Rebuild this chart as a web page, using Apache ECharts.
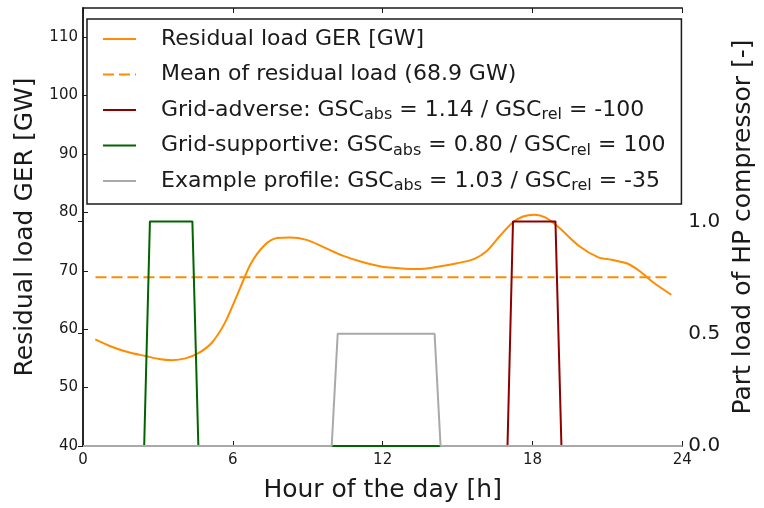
<!DOCTYPE html>
<html>
<head>
<meta charset="utf-8">
<script src="https://cdn.jsdelivr.net/npm/echarts@6/dist/echarts.min.js"></script>
<style>
  html, body { margin: 0; padding: 0; background: #fff; }
  #chart { width: 764px; height: 508px; }
</style>
</head>
<body>
<div id="chart"></div>
<script>
// residual load over the day (GW)
var loadHours = [0.49, 1.2, 1.86, 2.52, 3.04, 3.57, 4.1, 4.62, 5.14, 5.67, 6.2, 6.72, 7.25, 7.77, 8.29, 8.95, 9.61, 10.4, 11.19, 11.97,
                 12.5, 13.41, 14.07, 14.99, 15.65, 16.17, 16.7, 17.22, 17.62, 18.08, 18.53, 19.06, 19.85, 20.64, 21.16, 21.82, 22.34, 22.87, 23.56];
var loadValues = [58.25, 56.9, 56.0, 55.4, 54.9, 54.7, 55.0, 55.9, 57.6, 61.0, 66.1, 71.2, 74.3, 75.6, 75.7, 75.3, 74.1, 72.6, 71.5, 70.7,
                  70.5, 70.3, 70.6, 71.3, 72.0, 73.4, 76.0, 78.3, 79.3, 79.6, 79.1, 77.4, 74.3, 72.3, 71.9, 71.2, 69.8, 67.9, 65.9];
var meanHours = [0.5, 23.5];
var meanLoad = 68.9;

// compressor part load profiles
var adverseHours = [0, 17.0, 17.22, 18.92, 19.16, 24];
var adverseValues = [0, 0, 1, 1, 0, 0];
var supportiveHours = [0, 2.45, 2.68, 4.38, 4.62, 24];
var supportiveValues = [0, 0, 1, 1, 0, 0];
var exampleHours = [0, 9.96, 10.2, 14.08, 14.32, 24];
var exampleValues = [0, 0, 0.5, 0.5, 0, 0];

var xTicks = [0, 6, 12, 18, 24];
var leftTicks = [40, 50, 60, 70, 80, 90, 100, 110];
var rightTicks = [0, 0.5, 1.0];

var names = [
    'Residual load GER [GW]',
    'Mean of residual load (68.9 GW)',
    'Grid-adverse: GSC_abs = 1.14 / GSC_rel = -100',
    'Grid-supportive: GSC_abs = 0.80 / GSC_rel = 100',
    'Example profile: GSC_abs = 1.03 / GSC_rel = -35'
];

function zip(xs, ys) {
    return xs.map(function (x, i) { return [x, ys[i]]; });
}

var font = 'DejaVu Sans';
var ink = '#1a1a1a';

var myChart = echarts.init(document.getElementById('chart'));

function lineSeries(name, data, color, yIndex, extra) {
    var s = {
        name: name,
        type: 'line',
        data: data,
        yAxisIndex: yIndex,
        symbol: 'none',
        animation: false,
        lineStyle: { color: color, width: 2 },
        itemStyle: { color: color }
    };
    for (var k in extra) { s[k] = extra[k]; }
    return s;
}

var option = {
    animation: false,
    grid: { left: 83, right: 72, top: 8, bottom: 58 },
    legend: {
        orient: 'vertical',
        left: 87,
        top: 19,
        padding: [7, 16, 10, 15],
        itemGap: 9.5,
        itemWidth: 33,
        itemHeight: 14,
        backgroundColor: '#fff',
        borderColor: ink,
        borderWidth: 1.5,
        borderRadius: 0,
        selectedMode: false,
        itemStyle: { opacity: 0 },
        data: names,
        formatter: function (name) {
            return name.replace(/_(abs|rel)/g, '{s|$1}');
        },
        textStyle: {
            fontFamily: font,
            fontSize: 22,
            lineHeight: 26,
            color: ink,
            padding: [0, 0, 0, 20],
            rich: {
                s: { fontFamily: font, fontSize: 16, lineHeight: 8, verticalAlign: 'bottom', color: ink }
            }
        }
    },
    xAxis: [{
        type: 'value',
        min: 0,
        max: 24,
        interval: 6,
        name: 'Hour of the day [h]',
        nameLocation: 'middle',
        nameGap: 32,
        nameTextStyle: { fontFamily: font, fontSize: 25, color: ink },
        axisLine: { show: true, lineStyle: { color: ink, width: 1.5 } },
        axisTick: { show: true, inside: true, length: 5, lineStyle: { color: ink } },
        axisLabel: { fontFamily: font, fontSize: 15, color: ink, margin: 7, customValues: xTicks },
        splitLine: { show: false }
    }, {
        type: 'value',
        position: 'top',
        min: 0,
        max: 24,
        interval: 6,
        axisLine: { show: true, lineStyle: { color: ink, width: 1.5 } },
        axisTick: { show: true, inside: true, length: 5, lineStyle: { color: ink } },
        axisLabel: { show: false },
        splitLine: { show: false }
    }],
    yAxis: [{
        type: 'value',
        min: 40,
        max: 115,
        interval: 10,
        name: 'Residual load GER [GW]',
        nameLocation: 'middle',
        nameGap: 41,
        nameTextStyle: { fontFamily: font, fontSize: 25, color: ink },
        axisLine: { show: true, lineStyle: { color: ink, width: 1.5 } },
        axisTick: { show: true, inside: true, length: 5, lineStyle: { color: ink }, customValues: leftTicks },
        axisLabel: { fontFamily: font, fontSize: 15, color: ink, margin: 5, customValues: leftTicks },
        splitLine: { show: false }
    }, {
        type: 'value',
        position: 'right',
        min: 0,
        max: 1.95,
        interval: 0.5,
        name: 'Part load of HP compressor [-]',
        nameLocation: 'middle',
        nameGap: 42,
        nameRotate: 90,
        nameTextStyle: { fontFamily: font, fontSize: 25, color: ink },
        axisLine: { show: true, lineStyle: { color: ink, width: 1.5 } },
        axisTick: { show: true, inside: true, length: 5, lineStyle: { color: ink }, customValues: rightTicks },
        axisLabel: {
            fontFamily: font, fontSize: 20, color: ink, margin: 6,
            customValues: rightTicks,
            formatter: function (v) { return v.toFixed(1); }
        },
        splitLine: { show: false }
    }],
    series: [
        lineSeries(names[0], zip(loadHours, loadValues), '#ff8c00', 0, { smooth: 0.3 }),
        lineSeries(names[1], zip(meanHours, [meanLoad, meanLoad]), '#ff8c00', 0, {
            lineStyle: { color: '#ff8c00', width: 2, type: [11, 5] }
        }),
        lineSeries(names[2], zip(adverseHours, adverseValues), '#8b0000', 1, {}),
        lineSeries(names[3], zip(supportiveHours, supportiveValues), '#006400', 1, {}),
        lineSeries(names[4], zip(exampleHours, exampleValues), '#a9a9a9', 1, {})
    ]
};

myChart.setOption(option);
</script>
</body>
</html>
